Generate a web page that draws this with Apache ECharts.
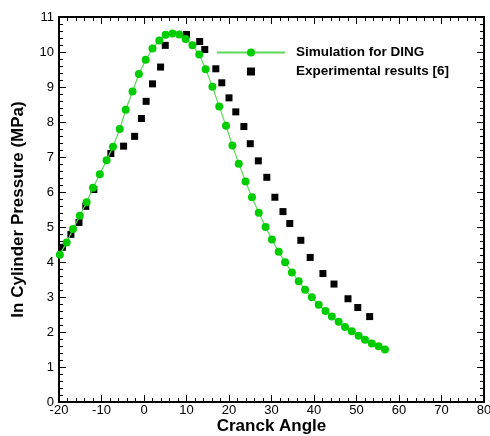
<!DOCTYPE html>
<html>
<head>
<meta charset="utf-8">
<script src="https://cdn.jsdelivr.net/npm/echarts@6/dist/echarts.min.js"></script>
<style>
	html, body { margin: 0; padding: 0; background: #fff; }
	#chart_box { width: 490px; height: 436px; }
</style>
</head>
<body>
<div id="chart_box"></div>
<script>
/*Simulation for DING*/
var simAngle = [-19.8, -18.2, -16.7, -15.1, -13.5, -12.0, -10.4, -8.8, -7.3, -5.7,
	-4.3, -2.7, -1.2, 0.4, 2.0, 3.6, 5.1, 6.7, 8.3, 9.8,
	11.4, 13.0, 14.5, 16.1, 17.7, 19.3, 20.8, 22.3, 23.9, 25.4,
	27.0, 28.6, 30.1, 31.7, 33.2, 34.8, 36.4, 37.9, 39.5, 41.1,
	42.7, 44.2, 45.8, 47.3, 48.9, 50.5, 52.0, 53.6, 55.2, 56.7];
var simPressure = [4.21, 4.56, 4.94, 5.32, 5.71, 6.12, 6.51, 6.91, 7.29, 7.80,
	8.35, 8.87, 9.37, 9.78, 10.10, 10.33, 10.49, 10.53, 10.50, 10.37,
	10.19, 9.93, 9.51, 9.01, 8.44, 7.89, 7.33, 6.81, 6.30, 5.85,
	5.41, 5.00, 4.64, 4.29, 3.99, 3.70, 3.45, 3.21, 2.99, 2.78,
	2.60, 2.44, 2.29, 2.14, 2.02, 1.89, 1.78, 1.67, 1.59, 1.50];
/*Experimental results [6]*/
var expAngle = [-19.2, -17.2, -15.3, -13.7, -11.8, -7.8, -4.8, -2.2, -0.6, 0.5,
	2.0, 3.9, 5.0, 10.0, 13.1, 14.3, 16.9, 18.3, 20.0, 21.6,
	23.5, 25.0, 26.9, 28.9, 30.8, 32.7, 34.3, 36.9, 39.1, 42.1,
	44.7, 48.0, 50.3, 53.1];
var expPressure = [4.42, 4.79, 5.13, 5.59, 6.07, 7.10, 7.31, 7.59, 8.10, 8.59,
	9.09, 9.57, 10.19, 10.50, 10.30, 10.07, 9.52, 9.12, 8.69, 8.29,
	7.87, 7.38, 6.89, 6.42, 5.85, 5.44, 5.10, 4.62, 4.13, 3.67,
	3.37, 2.95, 2.70, 2.44];

var seriesNames = ['Simulation for DING', 'Experimental results [6]'];
var xName = 'Cranck Angle';
var yName = 'In Cylinder Pressure (MPa)';

function pairs(xs, ys) {
	var out = [];
	for (var i = 0; i < xs.length; i++) {
		out.push([xs[i], ys[i]]);
	}
	return out;
}

var font = 'Liberation Sans, Arial, sans-serif';

/*坐标轴公共样式*/
function makeAxis(pos, min, max, showLabel) {
	return {
		type: 'value',
		position: pos,
		min: min,
		max: max,
		interval: 1,
		axisLine: { show: true, onZero: false, lineStyle: { color: '#000', width: 2 } },
		axisTick: { show: true, inside: true, length: 7, lineStyle: { color: '#000', width: 1 } },
		minorTick: { show: true, splitNumber: 5, length: 4, lineStyle: { color: '#000', width: 1 } },
		axisLabel: { show: showLabel, color: '#000', fontSize: 13, fontFamily: font, margin: 4 },
		splitLine: { show: false },
		minorSplitLine: { show: false }
	};
}

var xBottom = makeAxis('bottom', -20, 80, true);
xBottom.interval = 10;
xBottom.axisLabel.margin = 2;
xBottom.name = xName;
xBottom.nameLocation = 'middle';
xBottom.nameGap = 16;
xBottom.nameMoveOverlap = false;
xBottom.nameTextStyle = { color: '#000', fontSize: 17, fontWeight: 'bold', fontFamily: font };

var xTop = makeAxis('top', -20, 80, false);
xTop.interval = 10;

var yLeft = makeAxis('left', 0, 11, true);
yLeft.axisLabel.margin = 5;
yLeft.name = yName;
yLeft.nameLocation = 'middle';
yLeft.nameGap = 32;
yLeft.nameMoveOverlap = false;
yLeft.nameTextStyle = { color: '#000', fontSize: 17, fontWeight: 'bold', fontFamily: font };

var yRight = makeAxis('right', 0, 11, false);

var myChart = echarts.init(document.getElementById('chart_box'));
var option = {
	animation: false,
	backgroundColor: '#fff',
	grid: { left: 59, right: 6, top: 17, bottom: 34, containLabel: false, outerBoundsMode: 'none' },
	legend: {
		orient: 'vertical',
		left: 211,
		top: 40,
		itemWidth: 68,
		itemHeight: 10,
		itemGap: 4,
		data: [
			{ name: seriesNames[0] },
			{ name: seriesNames[1], lineStyle: { opacity: 0 } }
		],
		textStyle: { color: '#000', fontSize: 13.5, fontWeight: 'bold', fontFamily: font, lineHeight: 15, padding: [0, 0, 0, 6] }
	},
	xAxis: [xBottom, xTop],
	yAxis: [yLeft, yRight],
	series: [{
		name: seriesNames[0],
		type: 'line',
		xAxisIndex: 0,
		yAxisIndex: 0,
		data: pairs(simAngle, simPressure),
		symbol: 'circle',
		symbolSize: 8,
		showSymbol: true,
		lineStyle: { color: '#5ad85a', width: 1.2 },
		itemStyle: { color: '#00cc00' },
		z: 3
	}, {
		name: seriesNames[1],
		type: 'line',
		xAxisIndex: 0,
		yAxisIndex: 0,
		data: pairs(expAngle, expPressure),
		symbol: 'rect',
		symbolSize: 7,
		showSymbol: true,
		lineStyle: { opacity: 0 },
		itemStyle: { color: '#000' },
		z: 2
	}]
};
myChart.setOption(option);
</script>
</body>
</html>
